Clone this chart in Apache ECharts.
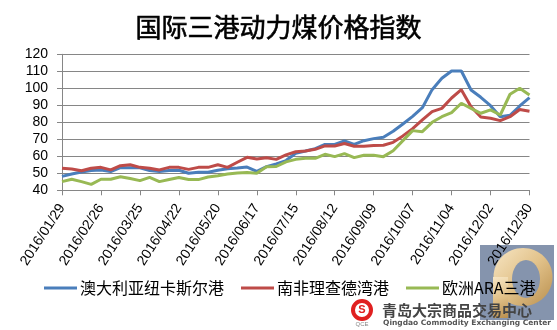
<!DOCTYPE html>
<html>
<head>
<meta charset="utf-8">
<script src="https://cdn.jsdelivr.net/npm/echarts@6/dist/echarts.min.js"></script>
<style>
html,body{margin:0;padding:0;background:#fff;}
#c{width:557px;height:330px;}
</style>
</head>
<body>
<div id="c"></div>
<script>
const dates = ["2016/01/29","2016/02/05","2016/02/12","2016/02/19","2016/02/26","2016/03/04","2016/03/11","2016/03/18","2016/03/25","2016/04/01","2016/04/08","2016/04/15","2016/04/22","2016/04/29","2016/05/06","2016/05/13","2016/05/20","2016/05/27","2016/06/03","2016/06/10","2016/06/17","2016/06/24","2016/07/01","2016/07/08","2016/07/15","2016/07/22","2016/07/29","2016/08/05","2016/08/12","2016/08/19","2016/08/26","2016/09/02","2016/09/09","2016/09/16","2016/09/23","2016/09/30","2016/10/07","2016/10/14","2016/10/21","2016/10/28","2016/11/04","2016/11/11","2016/11/18","2016/11/25","2016/12/02","2016/12/09","2016/12/16","2016/12/23","2016/12/30"];
const newcastle = [48.2,49.6,50.8,51.6,52,51,53.3,53.3,53.3,51.6,51,51.6,51.8,50,50.6,50.6,51.8,52.7,53.1,53.7,51.2,53.9,55.5,57.5,61.8,63.1,64.5,67,67,69,67,69.2,70.4,71.2,74.7,79,83.5,88.6,99.2,105.9,110.2,110.2,99,94.7,89.8,83.3,84.1,89.6,94.5];
const richards = [53,52.5,51.5,53,53.5,52,54.5,55,53.5,53,52,53.5,53.5,52.3,53.5,53.5,55,53.5,56.5,59.4,58.4,59.2,58.2,60.8,62.7,63.1,64.1,66.1,66.1,67.5,65.9,65.9,66.3,66.5,68.2,72,76.3,81.4,86.3,88.2,94.3,99.2,89.2,83.1,82.4,81,83.3,87.5,86.5];
const ara = [45.1,46.5,45.1,43.5,46.5,46.5,48,46.9,45.7,47.6,45.1,46.3,47.5,46.3,46.3,47.8,48.6,49.6,50.2,50.4,50,53.9,54,56.7,58.2,58.8,58.8,61.2,59.8,61.6,59.2,60.6,60.6,59.8,63.3,69.2,75.1,74.5,80,83.3,85.7,91.2,88.2,85.3,87.3,84.3,96.5,100,96.1];
const seriesNames = ["澳大利亚纽卡斯尔港","南非理查德湾港","欧洲ARA三港"];
const colors = ["#4a7ebb","#be4b48","#98b954"];
const yTicks = {min:40,max:120,interval:10};

const chart = echarts.init(document.getElementById('c'), null, {renderer:'canvas'});
const mk = (name, data, color) => ({
  name, type:'line', data, symbol:'none', smooth:false,
  lineStyle:{color, width:3}, itemStyle:{color}
});
const gold = new echarts.graphic.LinearGradient(0,0,1,1,[{offset:0,color:'#f7e6c4'},{offset:0.5,color:'#e2c28a'},{offset:1,color:'#b98f4e'}]);
chart.setOption({
  animation:false,
  title:{text:'国际三港动力煤价格指数', left:'center', top:9,
    textStyle:{fontFamily:'Noto Sans CJK SC', fontSize:26, fontWeight:'normal', color:'#000',
      textBorderColor:'#000', textBorderWidth:0.6}},
  grid:{left:62, right:27.5, top:54.3, bottom:139.7},
  legend:{left:39, top:275, itemWidth:33, itemHeight:3, itemGap:17, icon:'rect', z:5,
    textStyle:{fontFamily:'Noto Sans CJK SC', fontSize:16, color:'#000', padding:[0,0,0,-2]},
    data:seriesNames},
  xAxis:{type:'category', data:dates, boundaryGap:false,
    axisLine:{lineStyle:{color:'#868686', width:1}},
    axisTick:{interval:3, length:5, lineStyle:{color:'#868686'}},
    axisLabel:{interval:3, rotate:57, margin:15, color:'#000',
      fontFamily:'Liberation Sans', fontSize:14}},
  yAxis:{type:'value', min:yTicks.min, max:yTicks.max, interval:yTicks.interval,
    axisLine:{show:true, lineStyle:{color:'#868686'}},
    axisTick:{show:true, length:5, lineStyle:{color:'#868686'}},
    splitLine:{lineStyle:{color:'#868686', width:1}},
    axisLabel:{margin:14, color:'#000', fontFamily:'Liberation Sans', fontSize:14}},
  series:[mk(seriesNames[0], newcastle, colors[0]), mk(seriesNames[1], richards, colors[1]), mk(seriesNames[2], ara, colors[2])],
  graphic:[
    {type:'group', z:-10, children:[
      {type:'rect', shape:{x:480, y:245, width:74, height:75}, style:{fill:'#8594ad'}, z:-10},
      {type:'ellipse', shape:{cx:523, cy:277, rx:29.5, ry:29}, style:{fill:gold}, z:-9},
      {type:'rect', shape:{x:493, y:277, width:15, height:41}, style:{fill:gold}, z:-9},
      {type:'ellipse', shape:{cx:526, cy:279, rx:14, ry:19}, style:{fill:'#8594ad'}, z:-8}
    ]},
    {type:'circle', shape:{cx:362, cy:310, r:9}, style:{fill:'none', stroke:'#e02020', lineWidth:4}, z:102},
    {type:'text', style:{text:'S', x:362, y:310, align:'center', verticalAlign:'middle', fill:'#e02020', font:'bold 11px Liberation Sans'}, z:102},
    {type:'text', style:{text:'QCE', x:362, y:324, align:'center', verticalAlign:'middle', fill:'#888', font:'6px Liberation Sans'}, z:102},
    {type:'text', style:{text:'青岛大宗商品交易中心', x:382, y:310, align:'left', verticalAlign:'middle', fill:'#444', font:'bold 15px "Noto Sans CJK SC"'}, z:102},
    {type:'text', style:{text:'Qingdao Commodity Exchanging Center', x:383, y:323, align:'left', verticalAlign:'middle', fill:'#555', font:'bold 7.5px "DejaVu Sans"'}, z:102}
  ]
});
</script>
</body>
</html>
